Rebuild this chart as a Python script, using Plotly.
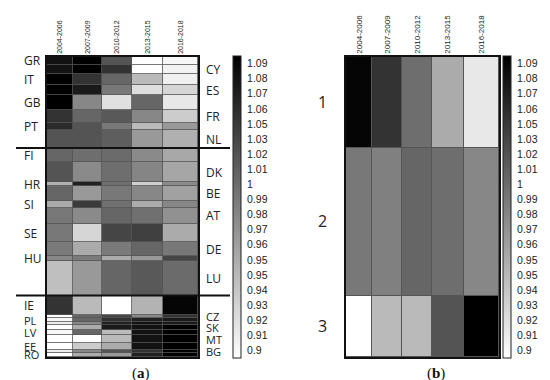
import numpy as np
import plotly.graph_objects as go

# ---------------- data ----------------
periods = ["2004-2006", "2007-2009", "2010-2012", "2013-2015", "2016-2018"]

group1 = ["GR", "CY", "IT", "ES", "GB", "FR", "PT", "NL"]
group2 = ["FI", "DK", "HR", "BE", "SI", "AT", "SE", "DE", "HU", "LU"]
group3 = ["IE", "CZ", "PL", "LT", "SK", "LV", "MT", "EE", "BG", "RO"]

# relative row weights (row heights in panel a)
weights_g1 = [7.7, 9.0, 11.6, 10.0, 15.0, 12.7, 7.3, 17.7]
weights_g2 = [14.0, 20.0, 4.3, 14.7, 6.7, 16.3, 18.0, 14.3, 4.4, 34.8]
weights_g3 = [19.2, 3.6, 4.0, 2.7, 5.0, 5.0, 8.3, 6.7, 2.7, 4.3]

# relative column weights (periods)
period_weights = [26, 29, 30, 31, 35]

values_g1 = [
    [1.081, 1.095, 1.029, 0.895, 0.901],  # GR
    [1.081, 1.095, 1.055, 0.895, 0.905],  # CY
    [1.095, 1.055, 1.015, 0.949, 0.907],  # IT
    [1.095, 1.075, 1.001, 0.921, 0.927],  # ES
    [1.095, 0.989, 0.919, 1.015, 0.913],  # GB
    [1.055, 1.015, 1.025, 0.989, 0.935],  # FR
    [1.061, 1.029, 1.001, 0.949, 0.975],  # PT
    [1.029, 1.029, 1.021, 0.975, 0.957],  # NL
]
values_g2 = [
    [1.015, 1.009, 1.011, 0.987, 0.963],  # FI
    [1.029, 0.987, 1.009, 0.991, 0.965],  # DK
    [0.957, 1.069, 1.007, 0.933, 0.987],  # HR
    [1.015, 0.975, 1.001, 0.989, 0.969],  # BE
    [0.961, 1.049, 1.007, 0.961, 0.989],  # SI
    [1.001, 0.987, 1.015, 1.007, 0.981],  # AT
    [1.001, 0.927, 1.041, 1.045, 0.961],  # SE
    [0.999, 0.961, 0.999, 1.015, 1.001],  # DE
    [0.989, 0.999, 0.961, 0.975, 1.041],  # HU
    [0.945, 0.975, 1.015, 1.025, 1.011],  # LU
]
values_g3 = [
    [1.055, 0.949, 0.895, 0.955, 1.091],  # IE
    [0.895, 1.015, 1.041, 0.989, 1.055],  # CZ
    [0.901, 1.015, 1.055, 1.069, 1.075],  # PL
    [0.909, 0.989, 1.069, 1.081, 1.075],  # LT
    [0.895, 0.961, 1.075, 1.081, 1.095],  # SK
    [0.901, 1.015, 0.949, 1.081, 1.095],  # LV
    [0.895, 0.895, 0.949, 1.081, 1.095],  # MT
    [0.895, 0.935, 0.961, 1.081, 1.095],  # EE
    [0.909, 0.989, 1.029, 1.055, 1.095],  # BG
    [0.895, 0.961, 0.975, 1.069, 1.095],  # RO
]

cluster_labels = ["1", "2", "3"]
cluster_values = [
    [1.091, 1.055, 1.009, 0.961, 0.913],
    [1.001, 0.995, 1.015, 1.009, 0.989],
    [0.895, 0.949, 0.949, 1.029, 1.095],
]

left_labels = ["GR", "IT", "GB", "PT", "FI", "HR", "SI", "SE", "HU",
               "IE", "PL", "LV", "EE", "RO"]
right_labels = ["CY", "ES", "FR", "NL", "DK", "BE", "AT", "DE", "LU",
                "CZ", "SK", "MT", "BG"]

colorbar_ticktext = ["0.9", "0.91", "0.92", "0.93", "0.94", "0.95", "0.95",
                     "0.96", "0.97", "0.98", "0.99", "1", "1.01", "1.02",
                     "1.03", "1.05", "1.06", "1.07", "1.08", "1.09"]
colorbar_tickvals = np.linspace(0.9, 1.09, len(colorbar_ticktext))

# ---------------- derived structures ----------------
countries = group1 + group2 + group3
row_weights = weights_g1 + weights_g2 + weights_g3
z_left = values_g1 + values_g2 + values_g3
y_edges = np.concatenate([[0], np.cumsum(row_weights)])
row_centers = {c: (y_edges[i] + y_edges[i + 1]) / 2 for i, c in enumerate(countries)}
total_h = y_edges[-1]

group_sums = [sum(weights_g1), sum(weights_g2), sum(weights_g3)]
g_edges = np.concatenate([[0], np.cumsum(group_sums)])
g_centers = [(g_edges[i] + g_edges[i + 1]) / 2 for i in range(3)]

x_edges = np.concatenate([[0], np.cumsum(period_weights)])
x_centers = [(x_edges[i] + x_edges[i + 1]) / 2 for i in range(len(periods))]
total_w = x_edges[-1]

W, H = 550, 380
ZMIN, ZMAX = 0.895, 1.095
gray = [[0, "#ffffff"], [1, "#000000"]]


def cbar(xpx):
    return dict(
        x=xpx / W, xanchor="left", xpad=0,
        y=1 - 199 / H, yanchor="middle", ypad=0,
        len=302 / H, lenmode="fraction",
        thickness=8, outlinewidth=1, outlinecolor="#222",
        tickvals=colorbar_tickvals, ticktext=colorbar_ticktext,
        ticks="outside", ticklen=4, tickcolor="rgba(0,0,0,0)",
        tickfont=dict(family="Liberation Sans, Arial", size=10.5, color="#222"),
    )


fig = go.Figure()
fig.add_trace(go.Heatmap(
    z=z_left, x=x_edges, y=y_edges, colorscale=gray, zmin=ZMIN, zmax=ZMAX,
    xgap=0.8, ygap=0.8, colorbar=cbar(225), xaxis="x", yaxis="y",
    hoverinfo="skip"))
fig.add_trace(go.Heatmap(
    z=cluster_values, x=x_edges, y=g_edges, colorscale=gray, zmin=ZMIN, zmax=ZMAX,
    xgap=1, ygap=1, colorbar=cbar(495), xaxis="x2", yaxis="y2",
    hoverinfo="skip"))

ydom = [1 - 349 / H, 1 - 49 / H]
common_x = dict(range=[0, total_w], side="top", tickmode="array", tickvals=x_centers,
                ticktext=periods, tickangle=-90, showgrid=False, zeroline=False,
                showline=True, mirror=True, linecolor="#111", linewidth=1.5, ticks="")
fig.update_layout(
    width=W, height=H, margin=dict(l=0, r=0, t=0, b=0),
    paper_bgcolor="white", plot_bgcolor="#555555",
    font=dict(family="Open Sans, Noto Sans", color="#222"),
    xaxis=dict(domain=[39 / W, 190 / W], tickfont=dict(size=7, family="Liberation Sans"),
               anchor="y", **common_x),
    yaxis=dict(domain=ydom, range=[total_h, 0], showticklabels=False, showgrid=False,
               zeroline=False, showline=True, mirror=True, linecolor="#111",
               linewidth=1.5, ticks="", anchor="x"),
    xaxis2=dict(domain=[338 / W, 491 / W], tickfont=dict(size=8, family="Liberation Sans"),
                anchor="y2", **common_x),
    yaxis2=dict(domain=ydom, range=[total_h, 0], tickmode="array", tickvals=g_centers,
                ticktext=cluster_labels, tickfont=dict(size=16, family="Open Sans"),
                ticks="outside", ticklen=14, tickcolor="rgba(0,0,0,0)",
                showgrid=False, zeroline=False, showline=True, mirror=True,
                linecolor="#111", linewidth=1.5, anchor="x2"),
    showlegend=False,
)

# group separator lines in panel (a)
for yb in g_edges[1:-1]:
    fig.add_shape(type="line", xref="paper", yref="y", x0=8 / W, x1=222 / W,
                  y0=yb, y1=yb, line=dict(color="#111", width=2))

# country labels
small = set(group3[1:])
for c in left_labels:
    fig.add_annotation(text=c, xref="paper", yref="y", x=14 / W, y=row_centers[c],
                       xanchor="left", yanchor="middle", showarrow=False,
                       font=dict(size=11 if c in small else 12, family="Open Sans",
                                 color="#222"))
for c in right_labels:
    fig.add_annotation(text=c, xref="paper", yref="y", x=196 / W, y=row_centers[c],
                       xanchor="left", yanchor="middle", showarrow=False,
                       font=dict(size=11 if c in small else 12, family="Open Sans",
                                 color="#222"))

# panel captions
for txt, xp in [("(<b>a</b>)", 133), ("(<b>b</b>)", 428)]:
    fig.add_annotation(text=txt, xref="paper", yref="paper", x=xp / W, y=1 - 365 / H,
                       xanchor="center", yanchor="middle", showarrow=False,
                       font=dict(size=15, family="Liberation Serif", color="#111"))

fig.write_html("out.html")
